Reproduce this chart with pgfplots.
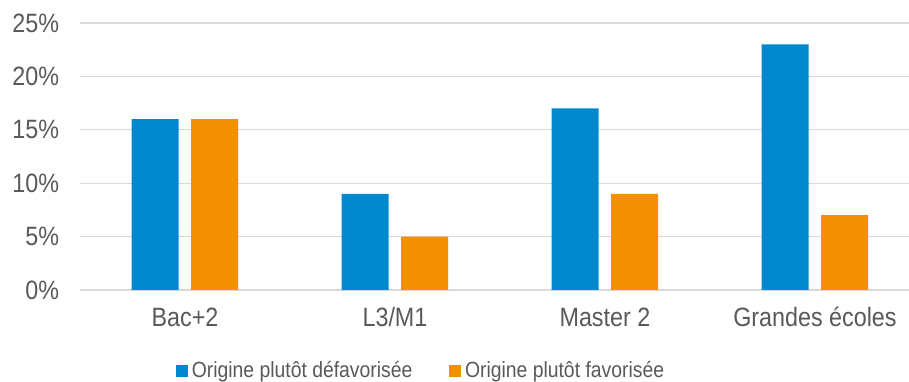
\documentclass[border=0pt]{standalone}
\usepackage{pgfplots}
\pgfplotsset{compat=1.18}
\usepackage{fontspec}
\setmainfont{Liberation Sans}[FakeStretch=0.88]

\definecolor{defav}{HTML}{0088CE}
\definecolor{fav}{HTML}{F39000}
\definecolor{txtgray}{HTML}{595959}
\definecolor{gridgray}{HTML}{D9D9D9}

\pgfplotsset{sqlegend/.style={legend image code/.code={\fill[##1] (0pt,-6.4pt) rectangle (11.6pt,5.3pt);}}}

\begin{document}
\begin{tikzpicture}
  \useasboundingbox (0pt,0pt) rectangle (909pt,382pt);
  \begin{axis}[
    at={(80pt,92pt)}, anchor=south west,
    scale only axis,
    width=829pt, height=267pt,
    ybar=12.5pt, bar width=47pt,
    xmin=-0.5, xmax=3.448,
    ymin=0, ymax=25,
    xtick=data,
    xticklabels={Bac+2, L3/M1, Master 2, Grandes écoles},
    ytick={0,5,...,25},
    yticklabel={\pgfmathprintnumber{\tick}\%},
    /pgf/number format/assume math mode=true,
    axis line style={draw=none},
    major tick length=0pt,
    ymajorgrids,
    grid style={gridgray, line width=1.3pt},
    tick label style={font=\fontsize{26.5}{30}\selectfont, text=txtgray, inner sep=0pt},
    yticklabel style={anchor=east, xshift=-20.7pt},
    xticklabel style={anchor=base, yshift=-37pt},
    legend columns=2,
    legend style={draw=none, fill=none, inner sep=0pt,
      at={(axis description cs:0.1158,-0.3015)}, anchor=west,
      font=\fontsize{22}{26}\selectfont, text=txtgray,
      nodes={inner sep=0pt},
      /tikz/every odd column/.append style={column sep=4pt},
      /tikz/every even column/.append style={column sep=37pt}},
    legend cell align=left,
  ]
    \addplot[fill=defav, draw=none, sqlegend]
      coordinates {(0,16) (1,9) (2,17) (3,23)};
    \addplot[fill=fav, draw=none, sqlegend]
      coordinates {(0,16) (1,5) (2,9) (3,7)};
    \legend{Origine plutôt défavorisée, Origine plutôt favorisée}
  \end{axis}
\end{tikzpicture}
\end{document}
